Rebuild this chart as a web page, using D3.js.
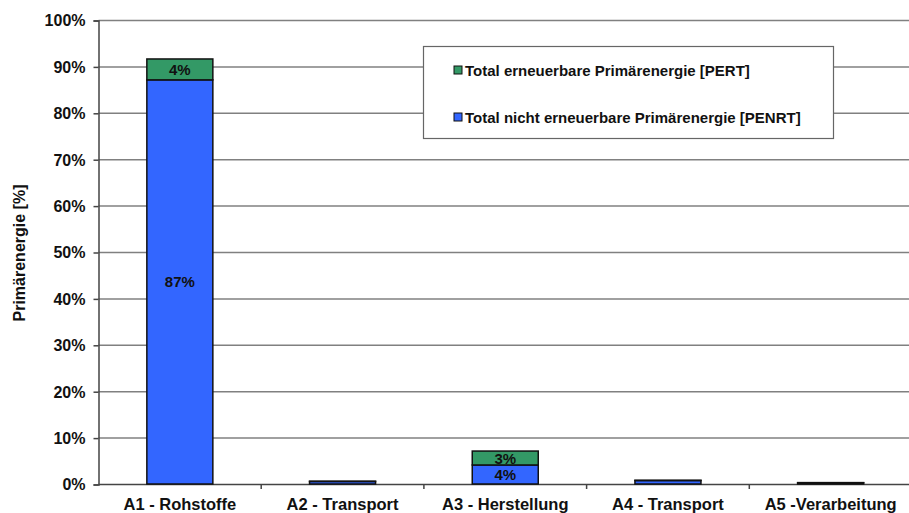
<!DOCTYPE html>
<html>
<head>
<meta charset="utf-8">
<script src="https://cdn.jsdelivr.net/npm/d3@7"></script>
<style>
  body { margin: 0; background: #fff; }
  text { font-family: "Liberation Sans", Arial, sans-serif; font-weight: bold; fill: #111; }
</style>
</head>
<body>
<script>
var categories = ["A1 - Rohstoffe", "A2 - Transport", "A3 - Herstellung", "A4 - Transport", "A5 -Verarbeitung"];
var penrt = [87.1, 0.55, 4.1, 0.75, 0.25];   // Total nicht erneuerbare Primärenergie
var pert = [4.5, 0.05, 3.0, 0.05, 0.05];     // Total erneuerbare Primärenergie
var penrtLabels = ["87%", "", "4%", "", ""];
var pertLabels = ["4%", "", "3%", "", ""];
var yTicks = [0, 10, 20, 30, 40, 50, 60, 70, 80, 90, 100];
var legendItems = ["Total erneuerbare Primärenergie [PERT]", "Total nicht erneuerbare Primärenergie [PENRT]"];

window.onload = function(){
    var w = 909, h = 513;
    var left = 98.5, right = 912, top = 20, bottom = 484;

    var svg = d3.select("body").append("svg")
        .attr("width", w)
        .attr("height", h);

    var x = d3.scaleBand().domain(categories).range([left, right]).paddingInner(0).paddingOuter(0);
    var y = d3.scaleLinear().domain([0, 100]).range([bottom, top]);
    var barW = 66;

    //gridlines
    svg.selectAll(".grid").data(yTicks.slice(1)).enter().append("line")
        .attr("x1", left).attr("x2", w)
        .attr("y1", function(d){ return y(d) + 0.5; })
        .attr("y2", function(d){ return y(d) + 0.5; })
        .attr("stroke", "#808080").attr("stroke-width", 1.5);

    //y axis
    var yAxis = svg.append("g")
        .attr("transform", "translate(" + left + ",0.5)")
        .call(d3.axisLeft(y).tickValues(yTicks).tickSize(5).tickFormat(function(d){ return d + "%"; }));
    yAxis.select(".domain").attr("stroke", "#444").attr("stroke-width", 1.5);
    yAxis.selectAll(".tick line").attr("stroke", "#444").attr("stroke-width", 1.5);
    yAxis.selectAll("text").attr("font-size", 16).attr("x", -13).attr("dy", "0.34em")
        .style("font-family", "Liberation Sans, Arial, sans-serif").style("font-weight", "bold").attr("fill", "#111");

    //x axis
    svg.append("line")
        .attr("x1", left).attr("x2", w)
        .attr("y1", bottom + 0.5).attr("y2", bottom + 0.5)
        .attr("stroke", "#444").attr("stroke-width", 1.5);
    var bounds = categories.map(function(c){ return x(c); }).slice(1);
    svg.selectAll(".xtick").data(bounds).enter().append("line")
        .attr("x1", function(d){ return d; }).attr("x2", function(d){ return d; })
        .attr("y1", bottom).attr("y2", bottom + 5)
        .attr("stroke", "#444").attr("stroke-width", 1.5);
    svg.selectAll(".xlab").data(categories).enter().append("text")
        .attr("x", function(d){ return x(d) + x.bandwidth() / 2; })
        .attr("y", 510)
        .attr("text-anchor", "middle")
        .attr("font-size", 16.5)
        .text(function(d){ return d; });

    //bars
    var blue = "#3366FF", green = "#339966";
    svg.selectAll(".penrt").data(penrt).enter().append("rect")
        .attr("x", function(d, i){ return x(categories[i]) + x.bandwidth() / 2 - barW / 2; })
        .attr("y", function(d){ return y(d); })
        .attr("width", barW)
        .attr("height", function(d){ return bottom - y(d); })
        .attr("fill", blue).attr("stroke", "#111").attr("stroke-width", 1.5);
    svg.selectAll(".pert").data(pert).enter().append("rect")
        .attr("x", function(d, i){ return x(categories[i]) + x.bandwidth() / 2 - barW / 2; })
        .attr("y", function(d, i){ return y(penrt[i] + d); })
        .attr("width", barW)
        .attr("height", function(d){ return bottom - y(d); })
        .attr("fill", green).attr("stroke", "#111").attr("stroke-width", 1.5);

    //data labels
    svg.selectAll(".lab1").data(penrt).enter().append("text")
        .attr("x", function(d, i){ return x(categories[i]) + x.bandwidth() / 2; })
        .attr("y", function(d){ return y(d / 2) + 5.5; })
        .attr("text-anchor", "middle").attr("font-size", 15)
        .text(function(d, i){ return penrtLabels[i]; });
    svg.selectAll(".lab2").data(pert).enter().append("text")
        .attr("x", function(d, i){ return x(categories[i]) + x.bandwidth() / 2; })
        .attr("y", function(d, i){ return y(penrt[i] + d / 2) + 5.5; })
        .attr("text-anchor", "middle").attr("font-size", 15)
        .text(function(d, i){ return pertLabels[i]; });

    //y label
    svg.append("text")
        .attr("transform", "translate(25,253) rotate(-90)")
        .attr("text-anchor", "middle").attr("font-size", 16)
        .text("Primärenergie [%]");

    //legend
    svg.append("rect")
        .attr("x", 423.5).attr("y", 46.5).attr("width", 410).attr("height", 92)
        .attr("fill", "#fff").attr("stroke", "#666").attr("stroke-width", 1.2);
    var legColors = [green, blue];
    var leg = svg.selectAll(".leg").data(legendItems).enter().append("g")
        .attr("transform", function(d, i){ return "translate(450," + (70 + i * 47) + ")"; });
    leg.append("rect")
        .attr("x", 4).attr("y", -4).attr("width", 8).attr("height", 8)
        .attr("fill", function(d, i){ return legColors[i]; })
        .attr("stroke", "#111").attr("stroke-width", 1);
    leg.append("text")
        .attr("x", 15).attr("y", 5.5)
        .attr("font-size", 15)
        .text(function(d){ return d; });
};
</script>
</body>
</html>
